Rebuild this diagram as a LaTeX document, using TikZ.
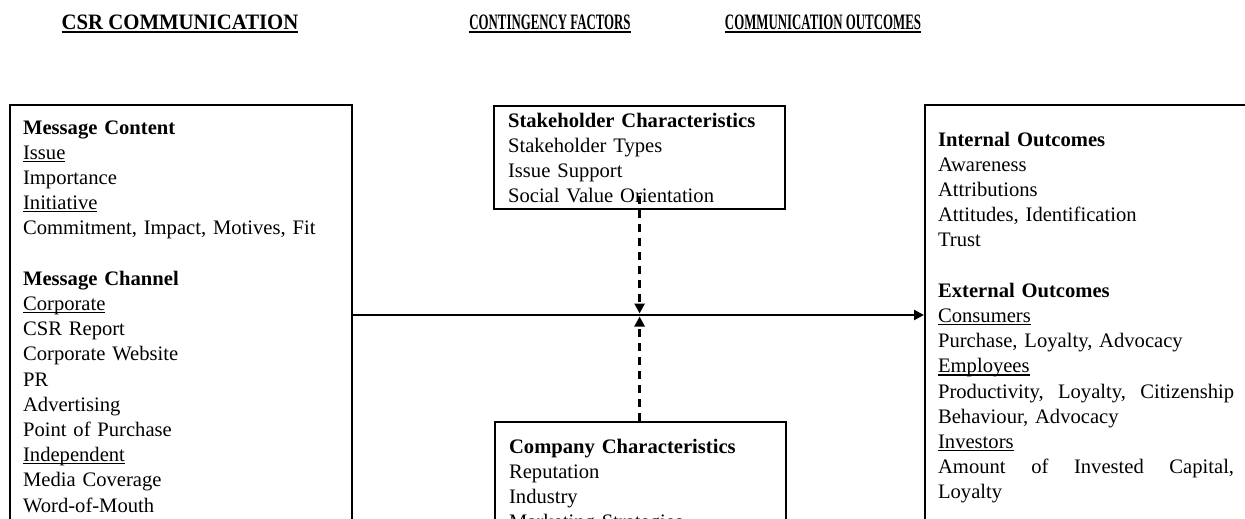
\documentclass[tikz,border=0pt]{standalone}
\usepackage{fontspec}
\setmainfont{Liberation Serif}
\usepackage{graphicx}
\usetikzlibrary{arrows.meta}

\newcommand{\ulin}[1]{\leavevmode\setbox0\hbox{#1}\rlap{\rule[-2.6pt]{\wd0}{1.1pt}}\box0}
\newcommand{\ultitle}[1]{\leavevmode\setbox0\hbox{#1}\rlap{\rule[-3.4pt]{\wd0}{2.2pt}}\box0}
\newcommand{\firstline}[1]{\rule{0pt}{#1}}
\newcommand{\lastline}[1]{\rule[-#1]{0pt}{#1}}

\tikzset{
	box/.style={draw, line width=2.2pt, anchor=north west, inner xsep=13pt, inner ysep=0pt, align=left, font=\fontsize{20.6}{25.2}\selectfont},
	title/.style={anchor=base, inner sep=0pt, font=\fontsize{22}{26}\selectfont\bfseries},
	link/.style={line width=2.2pt, -{Triangle[length=10pt,width=10pt]}},
	factor/.style={link, line width=2.6pt, dash pattern=on 8pt off 6pt}
}

\begin{document}
\begin{tikzpicture}[x=1pt, y=-1pt]
				\useasboundingbox (0,0) rectangle (1245,519);
				
				\node[title] (t-csr) at (180,30) {\scalebox{0.944}[1]{\ultitle{CSR COMMUNICATION}}};
				\node[title] (t-factors) at (550,30) {\scalebox{0.584}[1]{\ultitle{CONTINGENCY FACTORS}}};
				\node[title] (t-outcomes) at (823,30) {\scalebox{0.585}[1]{\ultitle{COMMUNICATION OUTCOMES}}};
				
				\node[box, text width=316pt] (csr) at (9,104) {\firstline{29pt}\textbf{Message Content}\\
					\ulin{Issue}\\ Importance\\ \ulin{Initiative}\\ Commitment, Impact, Motives, Fit\\[25.2pt]
					\textbf{Message Channel}\\ \ulin{Corporate}\\ CSR Report\\ Corporate Website\\ PR\\ Advertising\\
					Point of Purchase\\ \ulin{Independent}\\ Media Coverage\\ Word-of-Mouth\lastline{20pt}};
				
				\node[box, inner xsep=14pt, text width=263pt] (stake) at (493,105) {\firstline{21pt}\textbf{Stakeholder Characteristics}\\
					Stakeholder Types\\ Issue Support\\ Social Value Orientation\lastline{6pt}};
				
				\node[box, inner xsep=14pt, text width=263pt] (company) at (494,421) {\firstline{31pt}\textbf{Company Characteristics}\\
					Reputation\\ Industry\\ Marketing Strategies\lastline{20pt}};
				
				\node[box, text width=296pt] (outcome) at (924,104) {\firstline{41pt}\textbf{Internal Outcomes}\\
					Awareness\\ Attributions\\ Attitudes, Identification\\ Trust\\[25.2pt]
					\textbf{External Outcomes}\\ \ulin{Consumers}\\ Purchase, Loyalty, Advocacy\\ \ulin{Employees}\\
					Productivity,\hfill Loyalty,\hfill Citizenship\\ Behaviour, Advocacy\\ \ulin{Investors}\\
					Amount\hfill of\hfill Invested\hfill Capital,\\ Loyalty\lastline{30pt}};
				
				\coordinate (level) at (0,315);
				\coordinate (mid) at (stake.south |- level);
				
				\draw[link] (csr.east |- mid) -- (outcome.west |- mid);
				\draw[factor] ([yshift=14pt]stake.south) -- ([yshift=1.5pt]mid);
				\draw[factor] (mid |- company.north) -- ([yshift=-1.5pt]mid);
			\end{tikzpicture}
\end{document}
